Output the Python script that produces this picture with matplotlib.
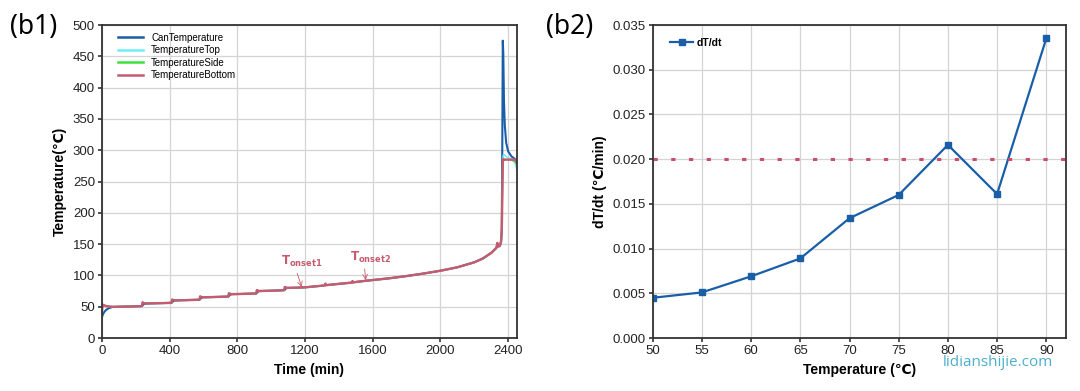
import numpy as np
import matplotlib.pyplot as plt

plt.rcParams['font.family'] = ['Liberation Sans', 'DejaVu Sans']

# ---- (b1) temperature vs time ----
time_min = [0, 3, 8, 15, 25, 40, 60, 100, 150, 200,
            236, 240, 246, 256, 300, 360,
            410, 415, 421, 431, 480, 530,
            576, 580, 586, 596, 650, 700,
            746, 750, 756, 766, 820, 870,
            911, 915, 921, 931, 990, 1040,
            1076, 1080, 1086, 1096, 1150, 1200, 1260,
            1316, 1320, 1326, 1400, 1476, 1480, 1486,
            1560, 1600, 1700, 1800, 1900, 2000, 2100, 2200, 2250, 2300, 2330,
            2336, 2342, 2350, 2358, 2362, 2365, 2368, 2371, 2375,
            2380, 2388, 2400, 2420, 2440, 2452]

can_temp = [33, 36, 39, 42, 45, 47.5, 49.5, 50, 50.3, 50.6,
            51, 52, 54, 55, 55.4, 55.8,
            56.2, 57, 59, 60, 60.4, 60.8,
            61.2, 62, 64, 65, 65.4, 65.8,
            66.2, 67, 69, 70, 70.4, 70.8,
            71.2, 72, 74, 75, 75.5, 76,
            76.4, 77, 79, 80, 80.4, 81, 82.5,
            84, 84.3, 84.5, 86.5, 88.5, 88.8, 89,
            91.5, 92.6, 95.5, 99, 103, 107.5, 113, 121, 127, 136, 144,
            147, 150, 147, 153, 175, 300, 475, 455, 380,
            340, 312, 298, 290, 286, 282]

top_temp = [42, 52, 53, 52, 51, 50.5, 50, 50, 50.3, 50.6,
            51, 57, 56, 55.2, 55.4, 55.8,
            56.2, 61.5, 60.8, 60.1, 60.4, 60.8,
            61.2, 66.5, 65.8, 65.1, 65.4, 65.8,
            66.2, 71.5, 70.8, 70.1, 70.4, 70.8,
            71.2, 76.5, 75.8, 75.1, 75.5, 76,
            76.4, 81.5, 80.8, 80.1, 80.4, 81, 82.5,
            84, 87, 84.5, 86.5, 88.5, 91, 89,
            91.5, 92.6, 95.5, 99, 103, 107.5, 113, 121, 127, 136, 144,
            152, 146, 147, 155, 170, 220, 285, 292, 293,
            292, 290, 288, 286, 280, 268]

side_temp = [41, 52, 53, 52, 51, 50.5, 50, 50, 50.3, 50.6,
             51, 57, 56, 55.2, 55.4, 55.8,
             56.2, 61.5, 60.8, 60.1, 60.4, 60.8,
             61.2, 66.5, 65.8, 65.1, 65.4, 65.8,
             66.2, 71.5, 70.8, 70.1, 70.4, 70.8,
             71.2, 76.5, 75.8, 75.1, 75.5, 76,
             76.4, 81.5, 80.8, 80.1, 80.4, 81, 82.5,
             84, 87, 84.5, 86.5, 88.5, 91, 89,
             91.5, 92.6, 95.5, 99, 103, 107.5, 113, 121, 127, 136, 144,
             152, 146, 147, 155, 170, 220, 282, 285, 285,
             285, 285, 285, 284, 282, 276]

bottom_temp = [40, 52, 53, 52, 51, 50.5, 50, 50, 50.3, 50.6,
               51, 57, 56, 55.2, 55.4, 55.8,
               56.2, 61.5, 60.8, 60.1, 60.4, 60.8,
               61.2, 66.5, 65.8, 65.1, 65.4, 65.8,
               66.2, 71.5, 70.8, 70.1, 70.4, 70.8,
               71.2, 76.5, 75.8, 75.1, 75.5, 76,
               76.4, 81.5, 80.8, 80.1, 80.4, 81, 82.5,
               84, 87, 84.5, 86.5, 88.5, 91, 89,
               91.5, 92.6, 95.5, 99, 103, 107.5, 113, 121, 127, 136, 144,
               152, 146, 147, 155, 170, 220, 280, 286, 285,
               285, 285, 285, 285, 285, 280]

# onset markers: arrow tip (time, temp) and label position
onset_time = [1180, 1558]
onset_temp = [81.5, 92.5]
onset_text_time = [1060, 1465]
onset_text_temp = [110, 117]
onset_labels = [r'$\mathbf{T_{onset1}}$', r'$\mathbf{T_{onset2}}$']

# ---- (b2) dT/dt vs temperature ----
step_temp = [50, 55, 60, 65, 70, 75, 80, 85, 90]
dTdt = [0.0045, 0.0051, 0.0069, 0.0089, 0.0134, 0.0160, 0.0216, 0.0161, 0.0335]
threshold = 0.020

blue = '#1a5ea8'
red = '#c65a6e'
grid_c = '#d4d4d4'
spine_c = '#333333'

fig = plt.figure(figsize=(10.8, 3.91), dpi=100)
ax1 = fig.add_axes([0.0944, 0.1355, 0.3843, 0.8005])
ax2 = fig.add_axes([0.6044, 0.1355, 0.3826, 0.8005])

ax1.plot(time_min, can_temp, color=blue, lw=1.5, label='CanTemperature')
ax1.plot(time_min, top_temp, color='#6eeef5', lw=1.1, label='TemperatureTop')
ax1.plot(time_min, side_temp, color='#3ee03e', lw=1.0, label='TemperatureSide')
ax1.plot(time_min, bottom_temp, color=red, lw=1.7, label='TemperatureBottom')

for tx, ty, lx, ly, lab in zip(onset_time, onset_temp, onset_text_time,
                               onset_text_temp, onset_labels):
    ax1.annotate(lab, xy=(tx, ty), xytext=(lx, ly), ha='left', va='bottom',
                 color=red, fontsize=8.5,
                 arrowprops=dict(arrowstyle='->', color=red, lw=0.6,
                                 relpos=(0.35, 0.0), shrinkA=1, shrinkB=0))

ax1.set_xlim(0, 2452)
ax1.set_ylim(0, 500)
ax1.set_xticks(np.arange(0, 2401, 400))
ax1.set_yticks(np.arange(0, 501, 50))
ax1.set_xlabel('Time (min)', fontsize=10, fontweight='bold')
ax1.set_ylabel('Temperature(℃)', fontsize=10, fontweight='bold', labelpad=4)
leg1 = ax1.legend(loc='upper left', frameon=False, fontsize=7, handlelength=2.6,
                  labelspacing=0.25, borderaxespad=0.4, bbox_to_anchor=(0.02, 1.0))
for ln in leg1.get_lines():
    ln.set_linewidth(1.8)

ax2.plot(step_temp, dTdt, color=blue, lw=1.6, marker='s', ms=5, label='dT/dt')
ax2.axhline(threshold, color='#c9506a', lw=2.2, dashes=(1.4, 4.4))
ax2.set_xlim(50, 92)
ax2.set_ylim(0, 0.035)
ax2.set_xticks(np.arange(50, 91, 5))
ax2.set_yticks(np.arange(0, 0.0351, 0.005))
ax2.yaxis.set_major_formatter(plt.FormatStrFormatter('%.3f'))
ax2.set_xlabel('Temperature (℃)', fontsize=10, fontweight='bold')
ax2.set_ylabel('dT/dt (℃/min)', fontsize=10, fontweight='bold', labelpad=4)
leg2 = ax2.legend(loc='upper left', frameon=False, fontsize=7.5, handlelength=2.2,
                  handletextpad=0.3, bbox_to_anchor=(0.02, 0.99))
for txt in leg2.get_texts():
    txt.set_fontweight('bold')

for ax in (ax1, ax2):
    ax.grid(True, color=grid_c, lw=0.9)
    ax.set_axisbelow(True)
    for s in ax.spines.values():
        s.set_color(spine_c)
        s.set_linewidth(1.3)
    ax.tick_params(direction='out', length=3, width=1.1, labelsize=9.5,
                   colors='#222222', pad=2)

fig.text(0.009, 0.931, '(b1)', fontsize=19, family=['Noto Sans', 'DejaVu Sans'],
         va='center', ha='left')
fig.text(0.506, 0.931, '(b2)', fontsize=19, family=['Noto Sans', 'DejaVu Sans'],
         va='center', ha='left')
fig.text(0.924, 0.072, 'lidianshijie.com', fontsize=11, color='#3aa5c8',
         family=['Open Sans', 'DejaVu Sans'], ha='center', va='center', alpha=0.9)

fig.savefig('out.png', dpi=100)
